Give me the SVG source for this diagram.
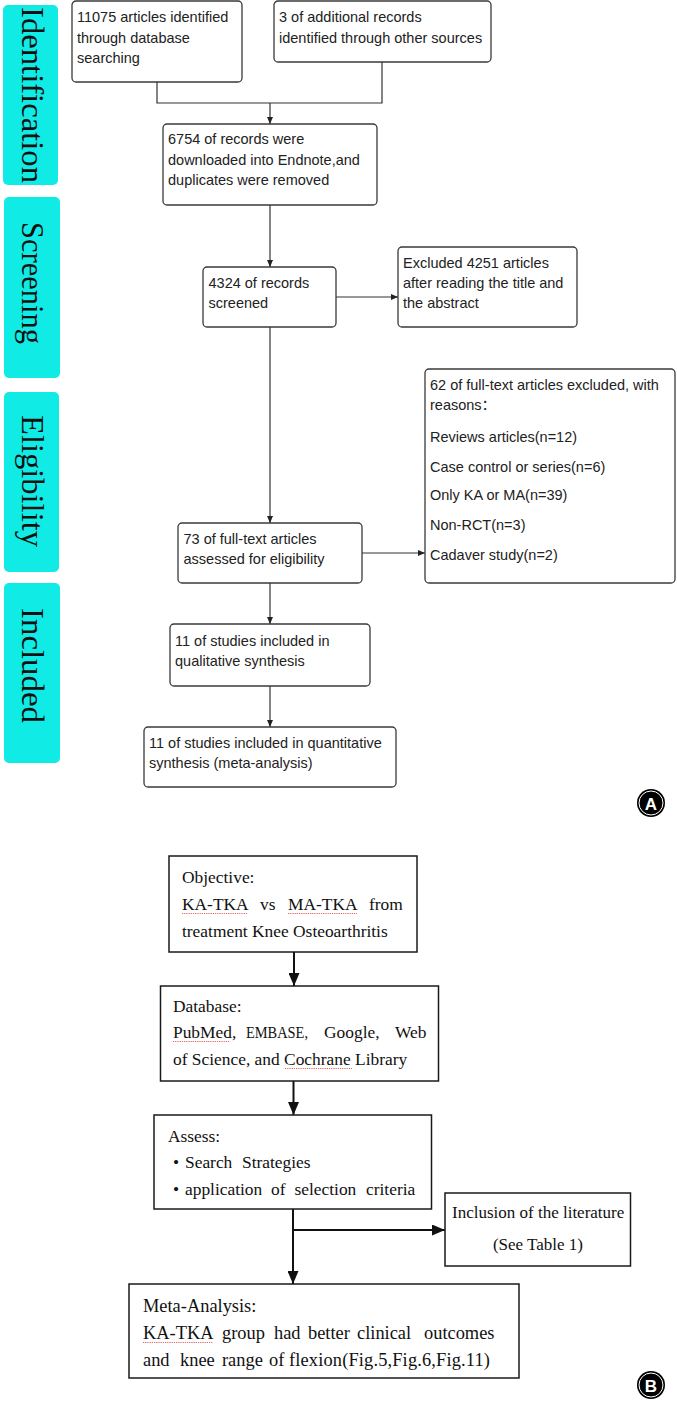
<svg xmlns="http://www.w3.org/2000/svg" width="677" height="1401" viewBox="0 0 677 1401">
<style>
.lbl{fill:#10EBE5}
.lt{font-family:"Liberation Serif","Times New Roman",serif;font-size:32px;fill:#111}
.box{fill:#fff;stroke:#3a3a3a;stroke-width:1.3}
.t{font-family:"Liberation Sans","Noto Sans CJK SC",Arial,sans-serif;font-size:14.5px;fill:#222}
.bbox{fill:#fff;stroke:#1a1a1a;stroke-width:1.5}
.s{font-family:"Liberation Serif","Times New Roman",serif;font-size:17.4px;fill:#111}
.s2{font-family:"Liberation Serif","Times New Roman",serif;font-size:17px;fill:#111}
.s3{font-family:"Liberation Serif","Times New Roman",serif;font-size:18.4px;fill:#111}
.ln{stroke:#333;stroke-width:1.2;fill:none}
.lnb{stroke:#111;stroke-width:2;fill:none}
.ul{stroke:#e05050;stroke-width:0.9;stroke-dasharray:1.2 1;fill:none}
.badge{fill:#000}
.ring{fill:none;stroke:#fff;stroke-width:1}
.bt{font-family:"Liberation Sans",Arial,sans-serif;font-size:17px;font-weight:bold;fill:#fff;text-anchor:middle}
</style>
<defs>
<marker id="ma" markerUnits="userSpaceOnUse" markerWidth="7" markerHeight="6" refX="7" refY="3" orient="auto"><path d="M0,0 L7,3 L0,6 z" fill="#222"/></marker>
<marker id="mb" markerUnits="userSpaceOnUse" markerWidth="13" markerHeight="11" refX="13" refY="5.5" orient="auto"><path d="M0,0 L13,5.5 L0,11 z" fill="#111"/></marker>
</defs>
<rect width="677" height="1401" fill="#fff"/>

<g id="stage-labels">
<g id="lbl-identification"><rect class="lbl" x="3" y="5" width="55" height="180" rx="5"/><text class="lt" transform="translate(22,7) rotate(90)" textLength="176" lengthAdjust="spacingAndGlyphs">Identification</text></g>
<g id="lbl-screening"><rect class="lbl" x="4" y="197" width="56" height="181" rx="5"/><text class="lt" transform="translate(22,222) rotate(90)" textLength="122" lengthAdjust="spacingAndGlyphs">Screening</text></g>
<g id="lbl-eligibility"><rect class="lbl" x="4" y="392" width="55" height="180" rx="5"/><text class="lt" transform="translate(22,415) rotate(90)" textLength="132" lengthAdjust="spacingAndGlyphs">Eligibility</text></g>
<g id="lbl-included"><rect class="lbl" x="4" y="583" width="56" height="180" rx="5"/><text class="lt" transform="translate(22,608) rotate(90)" textLength="115" lengthAdjust="spacingAndGlyphs">Included</text></g>
</g>

<g id="connectors-a">
<path class="ln" d="M157,82 V103 H382 V62"/>
<path class="ln" d="M270,103 V124" marker-end="url(#ma)"/>
<path class="ln" d="M270,205 V267" marker-end="url(#ma)"/>
<path class="ln" d="M336,297 H398" marker-end="url(#ma)"/>
<path class="ln" d="M270,327 V523" marker-end="url(#ma)"/>
<path class="ln" d="M362,553 H425" marker-end="url(#ma)"/>
<path class="ln" d="M270,583 V624" marker-end="url(#ma)"/>
<path class="ln" d="M270,686 V727" marker-end="url(#ma)"/>
</g>

<g id="n-11075"><rect class="box" x="72" y="1" width="170" height="81" rx="4"/>
<text class="t" x="77" y="22">11075 articles identified</text><text class="t" x="77" y="42.5">through database</text><text class="t" x="77" y="63">searching</text></g>
<g id="n-3add"><rect class="box" x="274" y="1" width="217" height="61" rx="4"/>
<text class="t" x="279" y="22">3 of additional records</text><text class="t" x="279" y="42.5">identified through other sources</text></g>
<g id="n-6754"><rect class="box" x="163" y="124" width="214" height="81" rx="4"/>
<text class="t" x="168" y="144">6754 of records were</text><text class="t" x="168" y="165">downloaded into Endnote,and</text><text class="t" x="168" y="185">duplicates were removed</text></g>
<g id="n-4324"><rect class="box" x="203" y="267" width="133" height="60" rx="4"/>
<text class="t" x="208.5" y="288">4324 of records</text><text class="t" x="208.5" y="308">screened</text></g>
<g id="n-excl4251"><rect class="box" x="398" y="247" width="179" height="80" rx="4"/>
<text class="t" x="403" y="268">Excluded 4251 articles</text><text class="t" x="403" y="288">after reading the title and</text><text class="t" x="403" y="308">the abstract</text></g>
<g id="n-73"><rect class="box" x="178" y="523" width="184" height="60" rx="4"/>
<text class="t" x="183.5" y="544">73 of full-text articles</text><text class="t" x="183.5" y="564">assessed for eligibility</text></g>
<g id="n-excl62"><rect class="box" x="425" y="369" width="250" height="214" rx="4"/>
<text class="t" x="430" y="390">62 of full-text articles excluded, with</text>
<text class="t" x="430" y="410">reasons：</text>
<text class="t" x="430" y="442">Reviews articles(n=12)</text>
<text class="t" x="430" y="472">Case control or series(n=6)</text>
<text class="t" x="430" y="500">Only KA or MA(n=39)</text>
<text class="t" x="430" y="530">Non-RCT(n=3)</text>
<text class="t" x="430" y="560">Cadaver study(n=2)</text></g>
<g id="n-11qual"><rect class="box" x="170" y="624" width="200" height="62" rx="4"/>
<text class="t" x="175" y="646">11 of studies included in</text><text class="t" x="175" y="666">qualitative synthesis</text></g>
<g id="n-11quant"><rect class="box" x="144" y="727" width="252" height="60" rx="4"/>
<text class="t" x="149" y="748">11 of studies included in quantitative</text><text class="t" x="149" y="768">synthesis (meta-analysis)</text></g>
<g id="badge-a"><circle class="badge" cx="651" cy="803" r="14"/><circle class="ring" cx="651" cy="803" r="12"/><text class="bt" x="651" y="809.5">A</text></g>

<g id="connectors-b">
<path class="lnb" d="M294,952 V986" marker-end="url(#mb)"/>
<path class="lnb" d="M293.5,1081 V1115" marker-end="url(#mb)"/>
<path class="lnb" d="M293,1209 V1284" marker-end="url(#mb)"/>
<path class="lnb" d="M293,1230 H445" marker-end="url(#mb)"/>
</g>

<g id="n-objective"><rect class="bbox" x="169" y="856" width="248" height="96"/>
<text class="s" x="182" y="883">Objective:</text>
<text class="s" y="910"><tspan x="182">KA-TKA</tspan><tspan x="260">vs</tspan><tspan x="288">MA-TKA</tspan><tspan x="369">from</tspan></text>
<text class="s" x="182" y="937">treatment Knee Osteoarthritis</text>
<path class="ul" d="M182,913.5 H248 M288,913.5 H357"/></g>
<g id="n-database"><rect class="bbox" x="160.5" y="986" width="278" height="95"/>
<text class="s" x="173" y="1012">Database:</text>
<text class="s" y="1038"><tspan x="173">PubMed,</tspan><tspan x="246" textLength="62" lengthAdjust="spacingAndGlyphs">EMBASE,</tspan><tspan x="324">Google,</tspan><tspan x="395">Web</tspan></text>
<text class="s" x="173" y="1065">of Science, and Cochrane Library</text>
<path class="ul" d="M173,1041.5 H230 M285,1068.5 H352"/></g>
<g id="n-assess"><rect class="bbox" x="154" y="1115" width="277.5" height="94"/>
<text class="s" x="168" y="1142">Assess:</text>
<text class="s" y="1168"><tspan x="173">•</tspan><tspan x="185">Search</tspan><tspan x="242">Strategies</tspan></text>
<text class="s" y="1195"><tspan x="173">•</tspan><tspan x="185">application</tspan><tspan x="271">of</tspan><tspan x="294.5">selection</tspan><tspan x="366">criteria</tspan></text></g>
<g id="n-inclusion"><rect class="bbox" x="445" y="1193" width="185.5" height="73"/>
<text class="s2" x="452" y="1218">Inclusion of the literature</text>
<text class="s2" x="538" y="1250" text-anchor="middle">(See Table 1)</text></g>
<g id="n-meta"><rect class="bbox" x="129" y="1284" width="390" height="94"/>
<text class="s3" x="143" y="1312">Meta-Analysis:</text>
<text class="s3" y="1339"><tspan x="143">KA-TKA</tspan><tspan x="222">group</tspan><tspan x="274">had</tspan><tspan x="308">better</tspan><tspan x="357">clinical</tspan><tspan x="424">outcomes</tspan></text>
<text class="s3" y="1366"><tspan x="143">and</tspan><tspan x="180">knee</tspan><tspan x="222">range</tspan><tspan x="269">of</tspan><tspan x="289" letter-spacing="0.15">flexion(Fig.5,Fig.6,Fig.11)</tspan></text>
<path class="ul" d="M143,1342.5 H213"/></g>
<g id="badge-b"><circle class="badge" cx="651" cy="1385" r="14"/><circle class="ring" cx="651" cy="1385" r="12"/><text class="bt" x="651" y="1391.5">B</text></g>
</svg>
